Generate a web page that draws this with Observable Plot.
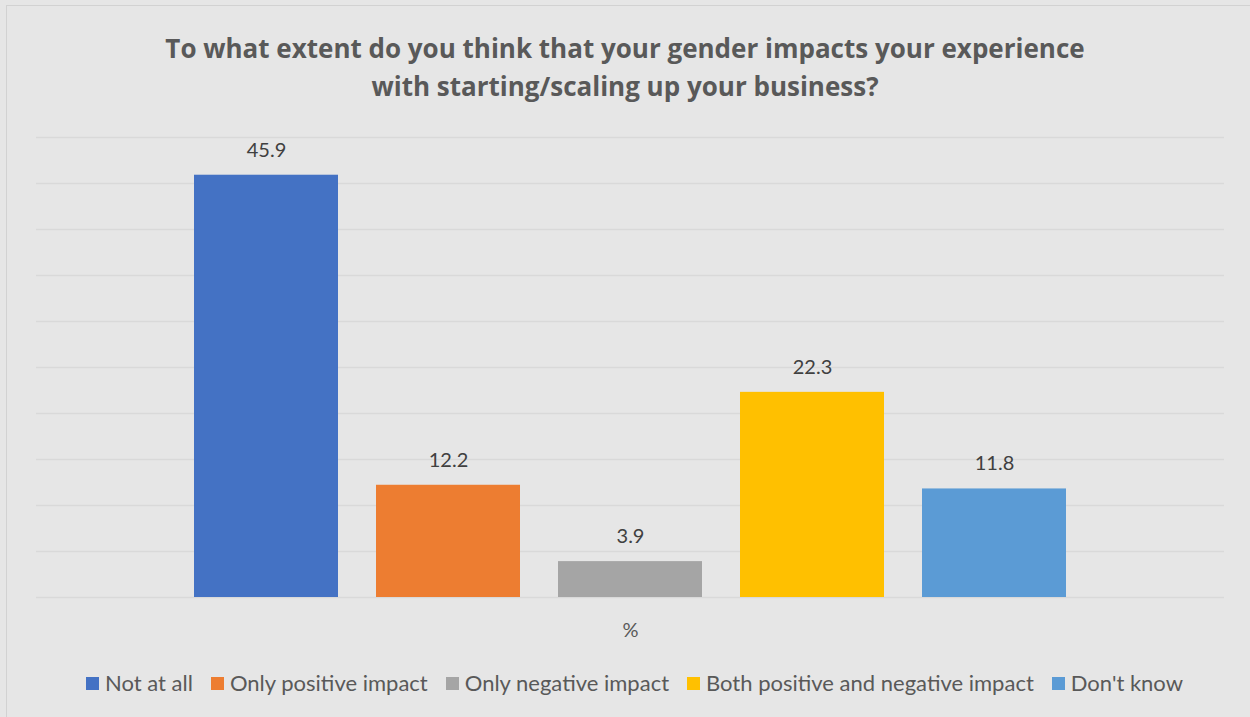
<!DOCTYPE html>
<html>
<head>
<meta charset="utf-8">
<script src="https://cdn.jsdelivr.net/npm/d3@7"></script>
<script src="https://cdn.jsdelivr.net/npm/@observablehq/plot@0.6"></script>
<style>
  html, body { margin: 0; padding: 0; background: #e6e6e6; overflow: hidden; }
  #wrap { position: relative; width: 1250px; height: 717px; font-family: Lato, "Open Sans", sans-serif; }
  #border { position: absolute; left: 6px; top: 5px; width: 1400px; height: 900px;
            border-left: 1px solid #d2d2d2; border-top: 1px solid #d2d2d2; pointer-events: none; }
  #title { height: 110px; box-sizing: border-box; padding-top: 29px; text-align: center;
           font-family: "Open Sans", Lato, sans-serif;
           font-weight: bold; font-size: 26px; line-height: 38px; color: #595959; }
  #chart svg { display: block; }
  #legend { height: 67px; display: flex; justify-content: center; align-items: flex-start;
            padding-top: 21px; box-sizing: border-box; margin-left: 19px;
            font-size: 22px; color: #595959; line-height: 24px; }
  .item { display: flex; align-items: center; margin-right: 18px; }
  .item:last-child { margin-right: 0; }
  .sw { width: 13px; height: 13px; margin-right: 6px; }
</style>
</head>
<body>
<div id="wrap">
  <div id="border"></div>
  <div id="title"></div>
  <div id="chart"></div>
  <div id="legend"></div>
</div>
<script>
const titleLines = ["To what extent do you think that your gender impacts your experience",
                    "with starting/scaling up your business?"];
const groups = ["%"];
const categories = ["Not at all", "Only positive impact", "Only negative impact",
                    "Both positive and negative impact", "Don't know"];
const values = [45.9, 12.2, 3.9, 22.3, 11.8];
const colors = ["#4472C4", "#ED7D31", "#A5A5A5", "#FFC000", "#5B9BD5"];
const yTicks = [0, 5, 10, 15, 20, 25, 30, 35, 40, 45, 50];

document.getElementById("title").innerHTML = titleLines.join("<br>");

const data = categories.map((c, i) => ({group: groups[0], response: c, value: values[i]}));

const chart = Plot.plot({
  width: 1250,
  height: 540,
  marginTop: 27,
  marginBottom: 53,
  marginLeft: 36,
  marginRight: 26,
  style: {background: "transparent", fontFamily: "Lato, 'Open Sans', sans-serif", color: "#404040"},
  fx: {domain: groups, padding: 0, label: null, axis: "bottom", tickSize: 0, tickPadding: 25},
  x: {domain: categories, paddingInner: 0.21, paddingOuter: 0.86, align: 0.5, axis: null},
  y: {domain: [0, 50], axis: null},
  color: {domain: categories, range: colors},
  marks: [
    Plot.ruleY(yTicks, {stroke: "#d9d9d9", strokeWidth: 1.5}),
    Plot.barY(data, {fx: "group", x: "response", y: "value", fill: "response"}),
    Plot.text(data, {fx: "group", x: "response", y: "value", text: d => d.value.toFixed(1),
                     dy: -25, fontSize: 20, fill: "#404040"})
  ]
});
chart.querySelectorAll("g[aria-label='fx-axis tick label'] text, g[aria-label='fx-axis tick label']").forEach(el => {
  el.setAttribute("font-size", "20"); el.setAttribute("fill", "#595959");
});
document.getElementById("chart").appendChild(chart);

const legend = document.getElementById("legend");
categories.forEach((c, i) => {
  const item = document.createElement("div");
  item.className = "item";
  const sw = document.createElement("div");
  sw.className = "sw";
  sw.style.background = colors[i];
  const lab = document.createElement("span");
  lab.textContent = c;
  item.appendChild(sw);
  item.appendChild(lab);
  legend.appendChild(item);
});
</script>
</body>
</html>
